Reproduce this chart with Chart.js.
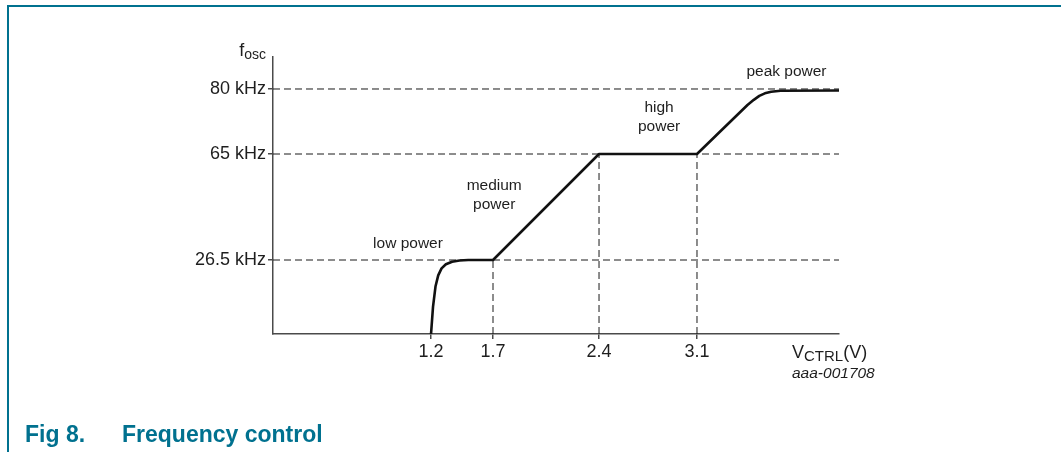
<!DOCTYPE html>
<html>
<head>
<meta charset="utf-8">
<script src="https://cdn.jsdelivr.net/npm/chart.js@4.4.0/dist/chart.umd.min.js"></script>
<style>
  html, body { margin: 0; padding: 0; background: #fff; }
  #wrap { width: 1061px; height: 452px; position: relative; }
</style>
</head>
<body>
<div id="wrap"><canvas id="freqChart" width="1061" height="452"></canvas></div>
<script>
// control voltage (V) and oscillator frequency (kHz) along the curve
const curveVolts = [1.2, 1.216, 1.236, 1.258, 1.285, 1.32, 1.37, 1.43, 1.5, 1.7, 2.4, 3.1, 3.42, 3.46, 3.495, 3.53, 3.57, 3.63, 4.0];
const curveKHz = [0, 9.7, 17.0, 21.0, 23.5, 25.0, 25.9, 26.3, 26.5, 26.5, 65, 65, 76.3, 77.5, 78.4, 79.0, 79.35, 79.6, 79.65];

const xTickValues = [1.2, 1.7, 2.4, 3.1];
const yTickValues = [26.5, 65, 80];

// dashed guide lines
const levelKHz = [26.5, 65, 80];
const dropVolts = [1.7, 2.4, 3.1];
const dropKHz = [26.5, 65, 65];

// region labels
const regionNames = [["low power"], ["medium", "power"], ["high", "power"], ["peak power"]];
const regionVolts = [1.025, 1.708, 2.829, 3.667];
const regionKHz = [32.3, 49.9, 73.4, 85.3];

// the figure is a sketch: axes are piecewise linear between the marked values
const scaleMaps = {
  x: { values: [0, 1.2, 1.7, 2.4, 3.1, 4.0], fractions: [0, 0.2792, 0.3887, 0.576, 0.7491, 1] },
  y: { values: [0, 26.5, 65, 80, 90], fractions: [0, 0.2671, 0.6498, 0.8845, 1] }
};

const TEAL = "#00718f";
const INK = "#1e1e1e";
const AXIS = "#4a4a4a";
const FONT = "'Liberation Sans', Arial, sans-serif";

function interp(v, from, to) {
  let i = 0;
  while (i < from.length - 2 && v > from[i + 1]) i++;
  const t = (v - from[i]) / (from[i + 1] - from[i]);
  return to[i] + t * (to[i + 1] - to[i]);
}

class PiecewiseScale extends Chart.LinearScale {
  static id = "piecewise";
  static defaults = Chart.LinearScale.defaults;

  getPixelForValue(value) {
    if (value === null || value === undefined || isNaN(value)) return NaN;
    const m = scaleMaps[this.id];
    return this.getPixelForDecimal(interp(value, m.values, m.fractions));
  }

  getValueForPixel(pixel) {
    const m = scaleMaps[this.id];
    return interp(this.getDecimalForPixel(pixel), m.fractions, m.values);
  }
}
Chart.register(PiecewiseScale);

const guideStyle = {
  borderColor: "#1a1a1a",
  borderWidth: 1,
  borderDash: [7, 4],
  pointRadius: 0,
  tension: 0
};

const datasets = [{
  data: curveVolts.map((v, i) => ({ x: v, y: curveKHz[i] })),
  borderColor: "#111",
  borderWidth: 2.6,
  borderJoinStyle: "round",
  borderCapStyle: "round",
  pointRadius: 0,
  tension: 0
}];

levelKHz.forEach(f => {
  datasets.push({ ...guideStyle, data: [{ x: 0, y: f }, { x: 4.0, y: f }] });
});
dropVolts.forEach((v, i) => {
  datasets.push({ ...guideStyle, data: [{ x: v, y: 0 }, { x: v, y: dropKHz[i] }] });
});

function drawSubscripted(ctx, parts, x, y, align) {
  // parts: [text, size, baselineShift]
  let total = 0;
  parts.forEach(p => {
    ctx.font = p[1] + "px " + FONT;
    total += ctx.measureText(p[0]).width;
  });
  let cx = align === "right" ? x - total : x;
  ctx.textAlign = "left";
  ctx.textBaseline = "alphabetic";
  parts.forEach(p => {
    ctx.font = p[1] + "px " + FONT;
    ctx.fillText(p[0], cx, y + p[2]);
    cx += ctx.measureText(p[0]).width;
  });
}

const figureText = {
  id: "figureText",
  afterDraw(chart) {
    const { ctx, chartArea } = chart;
    const xs = chart.scales.x;
    const ys = chart.scales.y;
    ctx.save();

    // frame
    ctx.strokeStyle = TEAL;
    ctx.lineWidth = 2;
    ctx.beginPath();
    ctx.moveTo(8, 452);
    ctx.lineTo(8, 6);
    ctx.lineTo(1061, 6);
    ctx.stroke();

    ctx.fillStyle = INK;

    // axis titles
    drawSubscripted(ctx, [["f", 18, 0], ["osc", 14, 3]], chartArea.left - 7, chartArea.top - 1, "right");
    drawSubscripted(ctx, [["V", 18, 0], ["CTRL", 15, 3], ["(V)", 18, 0]], 792, 358, "left");

    ctx.font = "italic 15.5px " + FONT;
    ctx.textAlign = "left";
    ctx.fillText("aaa-001708", 792, 378);

    // region labels
    ctx.font = "15.5px " + FONT;
    ctx.textAlign = "center";
    ctx.textBaseline = "middle";
    regionNames.forEach((lines, i) => {
      const px = xs.getPixelForValue(regionVolts[i]);
      const py = ys.getPixelForValue(regionKHz[i]);
      const lh = 19;
      lines.forEach((t, j) => {
        ctx.fillText(t, px, py + (j - (lines.length - 1) / 2) * lh);
      });
    });

    // caption
    ctx.fillStyle = TEAL;
    ctx.font = "bold 23px " + FONT;
    ctx.textAlign = "left";
    ctx.textBaseline = "alphabetic";
    ctx.fillText("Fig 8.", 25, 442);
    ctx.fillText("Frequency control", 122, 442);

    ctx.restore();
  }
};

const axisCommon = {
  type: "piecewise",
  grid: { drawOnChartArea: false, drawTicks: true, tickLength: 5, color: AXIS, lineWidth: 1.5 },
  border: { color: AXIS, width: 1.5 },
  ticks: { autoSkip: false, maxRotation: 0, color: INK, font: { family: FONT, size: 18 } }
};

new Chart(document.getElementById("freqChart"), {
  type: "line",
  data: { datasets },
  options: {
    responsive: false,
    animation: false,
    layout: { padding: { top: 57, left: 0, right: 222, bottom: 78 } },
    plugins: { legend: { display: false }, tooltip: { enabled: false } },
    scales: {
      x: {
        ...axisCommon,
        min: 0,
        max: 4.0,
        afterBuildTicks: s => { s.ticks = xTickValues.map(v => ({ value: v })); },
        afterFit: s => { s.height = 40; },
        ticks: { ...axisCommon.ticks, padding: 2, callback: v => Number(v).toFixed(1) }
      },
      y: {
        ...axisCommon,
        min: 0,
        max: 90,
        afterBuildTicks: s => { s.ticks = yTickValues.map(v => ({ value: v })); },
        afterFit: s => { s.width = 273; },
        ticks: { ...axisCommon.ticks, padding: 2, callback: v => v + " kHz" }
      }
    }
  },
  plugins: [figureText]
});
</script>
</body>
</html>
